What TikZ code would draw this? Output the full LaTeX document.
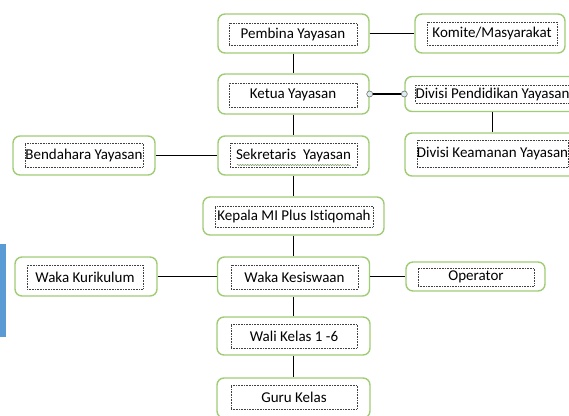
\documentclass[tikz,border=0pt]{standalone}
\usepackage{fontspec}
\setmainfont{Carlito}[Ligatures=NoCommon]
\usetikzlibrary{decorations.pathmorphing}
\definecolor{boxgreen}{RGB}{160,204,118}
\definecolor{barblue}{RGB}{91,155,213}
\definecolor{knobfill}{RGB}{222,238,240}
\tikzset{
	outerbox/.style={draw=boxgreen, line width=1.4pt, rounded corners=7pt, fill=white},
	innerbox/.style={draw=black!75, densely dotted, line width=0.6pt, inner sep=0pt, font=\fontsize{15}{17}\selectfont},
	link/.style={line width=1.9pt, black},
	knob/.style={draw=black!55, fill=knobfill, line width=0.6pt},
}
\begin{document}
\begin{tikzpicture}[x=1pt,y=-1pt]
			%%%%% START %%%%%
			\useasboundingbox (0,0) rectangle (569,415);
			\clip (0,0) rectangle (569,415);
			
			\fill[barblue] (0,244) rectangle (6,337);
			
			% main column
			\node[outerbox, minimum width=151pt, minimum height=39pt] (pembina) at (293.5,33.5) {};
			\node[innerbox, minimum width=128pt, minimum height=22pt] (pembina-t) at (293,34) {Pembina Yayasan};
			
			\node[outerbox, minimum width=151pt, minimum height=40pt] (ketua) at (293.5,94) {};
			\node[innerbox, minimum width=128pt, minimum height=24pt] (ketua-t) at (293,95) {Ketua Yayasan};
			
			\node[outerbox, minimum width=151pt, minimum height=39pt] (sekretaris) at (293.5,155.5) {};
			\node[innerbox, minimum width=127pt, minimum height=24pt] (sekretaris-t) at (293.5,155) {Sekretaris~~Yayasan};
			\draw[boxgreen!70!black, line width=0.5pt, decorate, decoration={snake, amplitude=0.6pt, segment length=2.5pt}] (237,165) -- (351,165);
			
			\node[outerbox, minimum width=181pt, minimum height=38pt] (kepala) at (293.5,216) {};
			\node[innerbox, minimum width=158pt, minimum height=21pt] (kepala-t) at (294,216.5) {Kepala MI Plus Istiqomah};
			
			\node[outerbox, minimum width=152pt, minimum height=39pt] (kesiswaan) at (293.5,276.5) {};
			\node[innerbox, minimum width=127pt, minimum height=24pt] (kesiswaan-t) at (294.5,277) {Waka Kesiswaan};
			
			\node[outerbox, minimum width=153pt, minimum height=38pt] (wali) at (293.5,336) {};
			\node[innerbox, minimum width=126pt, minimum height=24pt] (wali-t) at (294,336) {Wali Kelas 1 -6};
			
			\node[outerbox, minimum width=153pt, minimum height=40pt] (guru) at (293.5,398) {};
			\node[innerbox, minimum width=126pt, minimum height=24pt] (guru-t) at (294,397) {Guru Kelas};
			
			% right side
			\node[outerbox, minimum width=150pt, minimum height=39pt] (komite) at (490,33.5) {};
			\node[innerbox, minimum width=130pt, minimum height=23pt] (komite-t) at (492,33.5) {Komite/Masyarakat};
			
			\node[outerbox, minimum width=175pt, minimum height=35pt] (pendidikan) at (492.5,94) {};
			\node[innerbox, minimum width=151pt, minimum height=18pt] (pendidikan-t) at (492.5,94) {Divisi Pendidikan Yayasan};
			
			\node[outerbox, minimum width=175pt, minimum height=43pt] (keamanan) at (492.5,154.5) {};
			\node[innerbox, minimum width=151pt, minimum height=27pt] (keamanan-t) at (492.5,153.5) {Divisi Keamanan Yayasan};
			
			\node[outerbox, minimum width=139pt, minimum height=29pt] (operator) at (475.5,276.5) {};
			\node[innerbox, minimum width=116pt, minimum height=18pt] (operator-t) at (476,277) {Operator};
			
			% left side
			\node[outerbox, minimum width=142pt, minimum height=39pt] (bendahara) at (84,155.5) {};
			\node[innerbox, minimum width=118pt, minimum height=24pt] (bendahara-t) at (84,155) {Bendahara Yayasan};
			
			\node[outerbox, minimum width=142pt, minimum height=39pt] (kurikulum) at (86,276.5) {};
			\node[innerbox, minimum width=116pt, minimum height=24pt] (kurikulum-t) at (85,277) {Waka Kurikulum};
			
			% links
			\draw[link] (pembina) -- (ketua);
			\draw[link] (ketua) -- (sekretaris);
			\draw[link] (sekretaris) -- (kepala);
			\draw[link] (kepala) -- (kesiswaan);
			\draw[link] (kesiswaan) -- (wali);
			\draw[link] (wali) -- (guru);
			\draw[link] (pembina) -- (komite);
			\draw[link] (ketua.east) -- (pendidikan.west);
			\draw[link] (pendidikan) -- (keamanan);
			\draw[link] (bendahara) -- (sekretaris);
			\draw[link] (kurikulum) -- (kesiswaan);
			\draw[link] (kesiswaan) -- (operator);
			
			\draw[knob] (ketua.east) circle (3);
			\draw[knob] (pendidikan.west) circle (3);
			%%%%% END %%%%%
\end{tikzpicture}
\end{document}
